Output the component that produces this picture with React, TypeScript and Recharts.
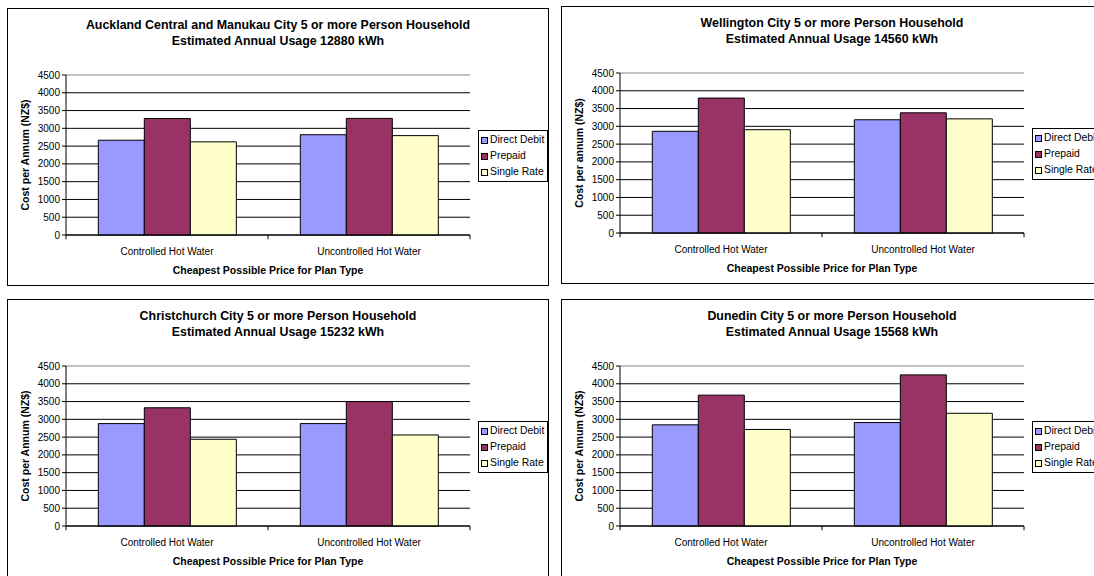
import { BarChart, Bar, XAxis, YAxis, CartesianGrid, ReferenceLine, Label } from 'recharts';

// plan types along the x axis
const categories = ['Controlled Hot Water', 'Uncontrolled Hot Water'];
const seriesNames = ['Direct Debit', 'Prepaid', 'Single Rate'];
const yTicks = [0, 500, 1000, 1500, 2000, 2500, 3000, 3500, 4000, 4500];
// boundaries between plan types on the x axis
const edgeTicks = [0, 1, 2];

// yearly cost (NZ$) for each city, one array per plan
const aucklandDirect = [2665, 2820];
const aucklandPrepaid = [3275, 3280];
const aucklandSingle = [2620, 2795];

const wellingtonDirect = [2860, 3185];
const wellingtonPrepaid = [3795, 3380];
const wellingtonSingle = [2905, 3210];

const christchurchDirect = [2880, 2880];
const christchurchPrepaid = [3325, 3500];
const christchurchSingle = [2440, 2560];

const dunedinDirect = [2845, 2910];
const dunedinPrepaid = [3680, 4250];
const dunedinSingle = [2715, 3170];

const colors = ['#9999FF', '#993366', '#FFFFCC'];
const FONT = '"Liberation Sans", Arial, sans-serif';

const W = 542;
const H = 278;

const buildRows = (direct: number[], prepaid: number[], single: number[]) =>
  categories.map((name, i) => ({
    name,
    'Direct Debit': direct[i],
    Prepaid: prepaid[i],
    'Single Rate': single[i],
    edge: i,
  }));

type PanelProps = {
  title: string;
  usage: string;
  yTitle: string;
  rows: ReturnType<typeof buildRows>;
  left: number;
  top: number;
};

const LegendBox = () => (
  <div
    style={{
      position: 'absolute',
      left: 470,
      top: 121,
      width: 70,
      border: '1px solid #000',
      background: '#fff',
      padding: '1px 0 1px 2px',
      boxSizing: 'border-box',
      fontFamily: FONT,
      fontSize: 10.4,
      lineHeight: '16px',
      whiteSpace: 'nowrap',
    }}
  >
    {seriesNames.map((s, i) => (
      <div key={s} style={{ display: 'flex', alignItems: 'center' }}>
        <span
          style={{
            display: 'inline-block',
            width: 5,
            height: 5,
            border: '1px solid #000',
            background: colors[i],
            marginRight: 2,
          }}
        />
        {s}
      </div>
    ))}
  </div>
);

const Panel = ({ title, usage, yTitle, rows, left, top }: PanelProps) => (
  <div
    style={{
      position: 'absolute',
      left,
      top,
      width: W,
      height: H,
      border: '1px solid #000',
      boxSizing: 'border-box',
      background: '#fff',
    }}
  >
    <div
      style={{
        position: 'absolute',
        left: 0,
        top: 8,
        width: W - 2,
        textAlign: 'center',
        fontFamily: FONT,
        fontWeight: 'bold',
        fontSize: 12.4,
        lineHeight: '16px',
      }}
    >
      {title}
      <br />
      {usage}
    </div>
    <BarChart
      width={W - 2}
      height={H - 2}
      data={rows}
      margin={{ top: 66, right: 78, bottom: 0, left: 18 }}
      barCategoryGap="16%"
      barGap={0}
      style={{ position: 'absolute', left: 0, top: 0 }}
    >
      <CartesianGrid xAxisId="main" vertical={false} stroke="#000" strokeWidth={1} />
      <ReferenceLine xAxisId="main" y={4500} stroke="#d9d9d9" strokeWidth={1.5} />
      <XAxis
        xAxisId="main"
        dataKey="name"
        height={50}
        interval={0}
        tickLine={false}
        axisLine={{ stroke: '#000' }}
        tick={{ fontSize: 10, fill: '#000', fontFamily: FONT }}
        tickMargin={7}
      >
        <Label
          value="Cheapest Possible Price for Plan Type"
          position="insideBottom"
          offset={11}
          style={{ fontSize: 10.5, fontWeight: 'bold', fill: '#000', fontFamily: FONT }}
        />
      </XAxis>
      {/* hidden numeric axis used to place the short ticks between plan types */}
      <XAxis
        xAxisId="edges"
        dataKey="edge"
        type="number"
        orientation="top"
        domain={[0, 2]}
        ticks={edgeTicks}
        height={0}
        hide
      />
      <YAxis
        width={40}
        domain={[0, 4500]}
        ticks={yTicks}
        interval={0}
        tickSize={4}
        tickMargin={2}
        axisLine={{ stroke: '#000' }}
        tickLine={{ stroke: '#000' }}
        tick={{ fontSize: 10, fill: '#000', fontFamily: FONT }}
      >
        <Label
          content={({ viewBox }: any) => {
            const cx = viewBox.x - 1;
            const cy = viewBox.y + viewBox.height / 2;
            return (
              <text
                x={cx}
                y={cy}
                transform={`rotate(-90 ${cx} ${cy})`}
                textAnchor="middle"
                dominantBaseline="central"
                style={{ fontSize: 10.5, fontWeight: 'bold', fill: '#000', fontFamily: FONT }}
              >
                {yTitle}
              </text>
            );
          }}
        />
      </YAxis>
      {edgeTicks.map((v) => (
        <ReferenceLine
          key={v}
          xAxisId="edges"
          stroke="#000"
          segment={[
            { x: v, y: 0 },
            { x: v, y: -120 },
          ]}
          ifOverflow="visible"
        />
      ))}
      {seriesNames.map((s, i) => (
        <Bar
          key={s}
          xAxisId="main"
          dataKey={s}
          fill={colors[i]}
          stroke="#000"
          strokeWidth={1}
          isAnimationActive={false}
        />
      ))}
    </BarChart>
    <LegendBox />
  </div>
);

export default function App() {
  return (
    <div
      style={{
        position: 'fixed',
        left: 0,
        top: 0,
        width: 1094,
        height: 576,
        overflow: 'hidden',
        background: '#fff',
      }}
    >
      <Panel
        title="Auckland Central and Manukau City 5 or more Person Household"
        usage="Estimated Annual Usage 12880 kWh"
        yTitle="Cost per Annum (NZ$)"
        rows={buildRows(aucklandDirect, aucklandPrepaid, aucklandSingle)}
        left={7}
        top={8}
      />
      <Panel
        title="Wellington City 5 or more Person Household"
        usage="Estimated Annual Usage 14560 kWh"
        yTitle="Cost per annum (NZ$)"
        rows={buildRows(wellingtonDirect, wellingtonPrepaid, wellingtonSingle)}
        left={561}
        top={6}
      />
      <Panel
        title="Christchurch City 5 or more Person Household"
        usage="Estimated Annual Usage 15232 kWh"
        yTitle="Cost per Annum (NZ$)"
        rows={buildRows(christchurchDirect, christchurchPrepaid, christchurchSingle)}
        left={7}
        top={299}
      />
      <Panel
        title="Dunedin City 5 or more Person Household"
        usage="Estimated Annual Usage 15568 kWh"
        yTitle="Cost per Annum (NZ$)"
        rows={buildRows(dunedinDirect, dunedinPrepaid, dunedinSingle)}
        left={561}
        top={299}
      />
    </div>
  );
}
